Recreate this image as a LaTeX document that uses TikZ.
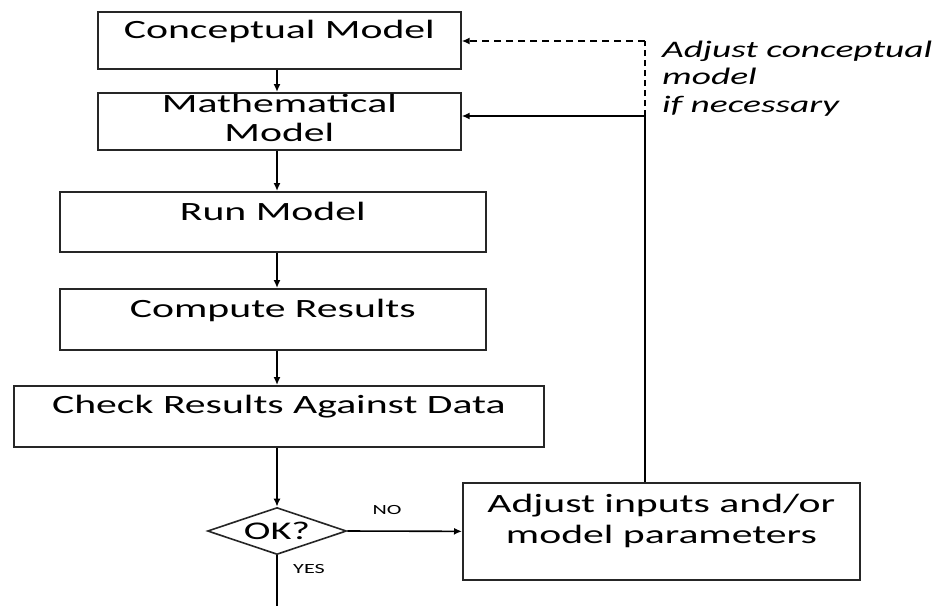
\documentclass[tikz,border=0pt]{standalone}
\usepackage{fontspec}
\setmainfont{Carlito}
\newfontfamily\dfont[FakeStretch=1.58]{Carlito}
\usetikzlibrary{shapes.geometric,arrows.meta}
\begin{document}
\begin{tikzpicture}[x=1pt,y=-1pt,
  box/.style={draw=black!85, line width=1.7pt, rectangle, inner sep=0pt, anchor=north west,
    font=\dfont\fontsize{26.4}{29}\selectfont},
  conn/.style={line width=1.6pt, -{Latex[length=8pt,width=7pt]}},
  plain/.style={line width=1.6pt},
  small/.style={font=\dfont\fontsize{14}{16}\selectfont, inner sep=0pt}]
\useasboundingbox (0,0) rectangle (942,606);
\fill[white] (0,0) rectangle (942,606);

\node[box, minimum width=363pt, text height=27pt, text depth=30pt] (cm) at (97,11) {Conceptual Model};
\node[box, minimum width=363pt, text height=20pt, text depth=37pt] (mm) at (97,92)
  {\begin{tabular}[t]{@{}c@{}}Mathematical\\Model\end{tabular}};
\node[box, minimum width=426pt, text height=29pt, text depth=31pt] (run) at (59,191) {Run Model};
\node[box, minimum width=426pt, text height=29pt, text depth=32pt] (cr) at (59,288) {Compute Results};
\node[box, minimum width=530pt, text height=28pt, text depth=33pt] (ck) at (13,385) {Check Results Against Data};
\node[box, minimum width=397pt, text height=30pt, text depth=67pt,
  font=\dfont\fontsize{26.4}{31}\selectfont] (adj) at (462,482)
  {\begin{tabular}[t]{@{}c@{}}Adjust inputs and/or\\model parameters\end{tabular}};
\node[diamond, draw=black!85, line width=1.6pt, minimum width=139pt, minimum height=47pt,
  inner sep=0pt, aspect=3, font=\dfont\fontsize{25.5}{28}\selectfont] (ok) at (277,531) {OK?};

\node[small, anchor=center] (no) at (387,510) {NO};
\node[small, anchor=center] (yes) at (309,569) {YES};
\node[anchor=base west, inner sep=0pt, font=\dfont\itshape\fontsize{23.7}{27.5}\selectfont] (note) at (662,57)
  {\begin{tabular}[t]{@{}l@{}}Adjust conceptual\\model\\if necessary\end{tabular}};

\coordinate (j1) at (645,116);
\coordinate (j2) at (645,41);
\coordinate (bot) at (277,606);

\draw[conn] (cm.south -| ok.north) -- (mm.north -| ok.north);
\draw[conn] (mm.south -| ok.north) -- (run.north -| ok.north);
\draw[conn] (run.south -| ok.north) -- (cr.north -| ok.north);
\draw[conn] (cr.south -| ok.north) -- (ck.north -| ok.north);
\draw[conn] (ck.south -| ok.north) -- (ok.north);
\draw[conn] (ok.east) -- (adj.west);
\draw[plain] (ok.south) -- (bot);
\draw[plain] (adj.north -| j1) -- (j1);
\draw[conn] (j1) -- (j1 -| mm.east);
\draw[plain, dashed, dash pattern=on 6pt off 4pt] (j1) -- (j2);
\draw[conn, dashed, dash pattern=on 7pt off 5pt] (j2) -- (j2 -| cm.east);
\end{tikzpicture}
\end{document}
